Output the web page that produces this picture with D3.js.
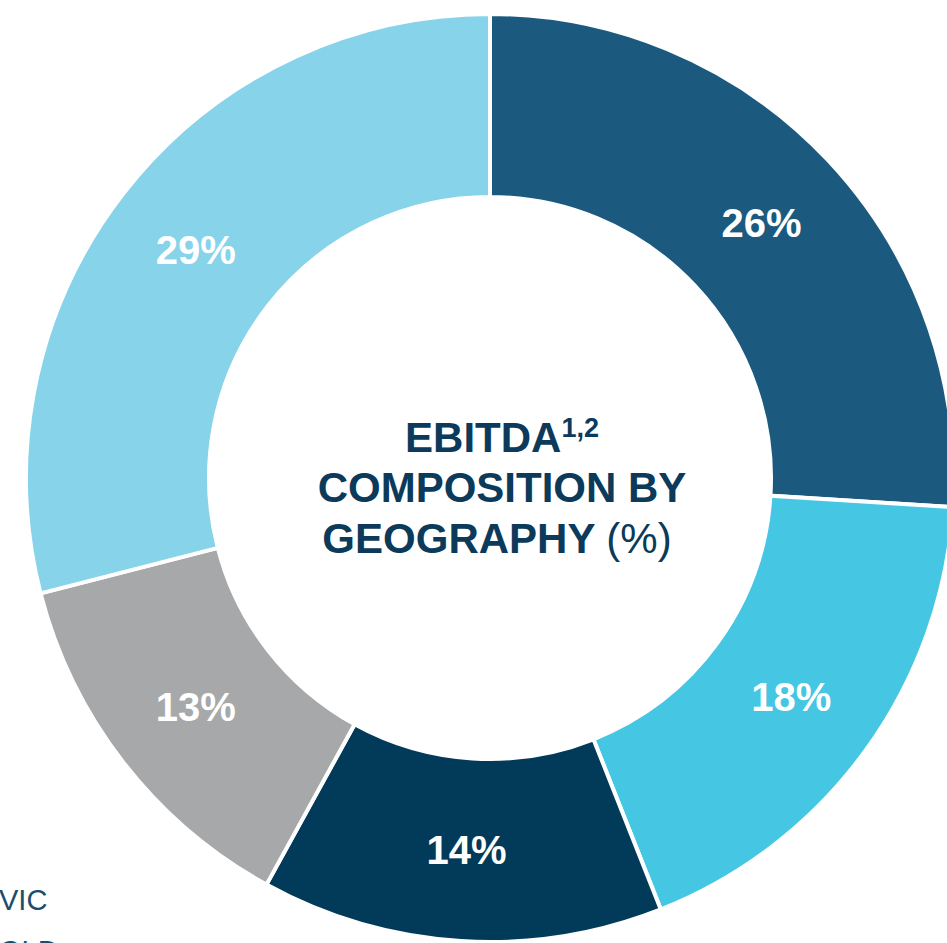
<!DOCTYPE html>
<html>
<head>
<meta charset="utf-8">
<script src="https://cdn.jsdelivr.net/npm/d3@7"></script>
<style>
  html, body { margin: 0; padding: 0; background: #ffffff; overflow: hidden; }
  svg { display: block; }
  text { font-family: "Liberation Sans", Arial, Helvetica, sans-serif; }
</style>
</head>
<body>
<svg id="chart" width="947" height="943"></svg>
<script>
// EBITDA composition by geography (%)
const regions = ["NSW", "WA", "SA", "Other", "VIC"];
const shares = [26, 18, 14, 13, 29];
const colours = ["#1b5a7e", "#45c6e3", "#023a5a", "#a7a8aa", "#87d3ea"];
const legendLabels = ["VIC", "QLD"];

const width = 947, height = 943;
const cx = 490, cy = 478;
const outerR = 464, innerR = 281;

const svg = d3.select("#chart");

const pie = d3.pie()
  .value(d => d.value)
  .sort(null);

const data = regions.map((r, i) => ({ region: r, value: shares[i], colour: colours[i] }));
const arcs = pie(data);

const arc = d3.arc().innerRadius(innerR).outerRadius(outerR);

const g = svg.append("g").attr("transform", `translate(${cx},${cy})`);

g.selectAll("path.slice")
  .data(arcs)
  .join("path")
  .attr("class", "slice")
  .attr("d", arc)
  .attr("fill", d => d.data.colour)
  .attr("stroke", "#ffffff")
  .attr("stroke-width", 4)
  .attr("stroke-linejoin", "miter");

g.selectAll("text.value")
  .data(arcs)
  .join("text")
  .attr("class", "value")
  .attr("transform", d => `translate(${arc.centroid(d)})`)
  .attr("text-anchor", "middle")
  .attr("dy", "0.36em")
  .attr("fill", "#ffffff")
  .attr("font-weight", "bold")
  .attr("font-size", 40)
  .text(d => d.data.value + "%");

// Centre title
const title = svg.append("g")
  .attr("text-anchor", "middle")
  .attr("fill", "#0b3a5a")
  .attr("font-size", 42)
  .attr("font-weight", "bold");

const t1 = title.append("text").attr("x", 502).attr("y", 452);
t1.append("tspan").text("EBITDA");
t1.append("tspan").attr("font-size", 27).attr("dy", -15).text("1,2");

title.append("text").attr("x", 502).attr("y", 502).text("COMPOSITION BY");

const t3 = title.append("text").attr("x", 497).attr("y", 553);
t3.append("tspan").text("GEOGRAPHY ");
t3.append("tspan").attr("font-weight", "normal").text("(%)");

// Legend (partially visible)
svg.append("g")
  .selectAll("text")
  .data(legendLabels)
  .join("text")
  .attr("x", -1)
  .attr("y", (d, i) => 910 + i * 51)
  .attr("fill", "#1c4d6d")
  .attr("font-size", 29)
  .text(d => d);
</script>
</body>
</html>
